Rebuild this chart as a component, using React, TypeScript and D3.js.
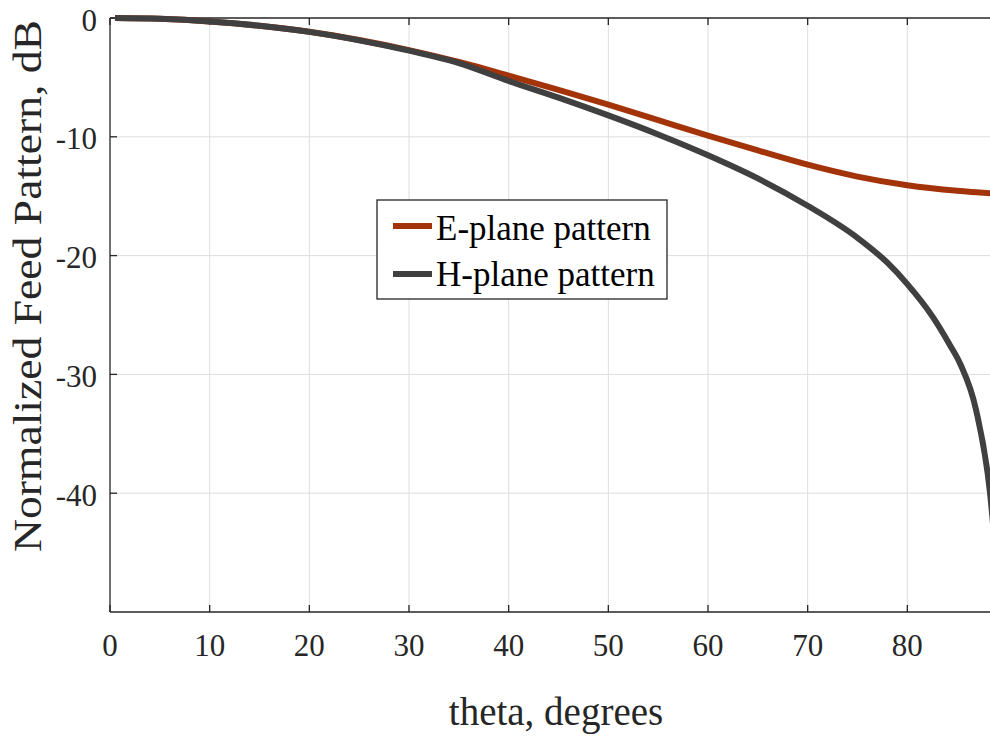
import React from "react";
import * as d3 from "d3";

// Feed pattern samples: angle off boresight (degrees) and normalized level (dB)
const thetaE: number[] = [0.5, 5, 10, 15, 20, 25, 30, 35, 40, 45, 50, 55, 60, 65, 70, 75, 80, 85, 90];
const ePlaneDb: number[] = [0, -0.07, -0.29, -0.65, -1.15, -1.85, -2.7, -3.7, -4.85, -6.05, -7.3, -8.6, -9.9, -11.15, -12.35, -13.35, -14.08, -14.55, -14.85];

const thetaH: number[] = [0.5, 5, 10, 15, 20, 25, 30, 35, 40, 45, 50, 55, 60, 65, 70, 75, 78, 80, 82.5, 84.25, 85.3, 86.9, 88.3, 89];
const hPlaneDb: number[] = [0, -0.07, -0.29, -0.65, -1.17, -1.88, -2.75, -3.8, -5.3, -6.7, -8.2, -9.8, -11.55, -13.5, -15.8, -18.5, -20.6, -22.4, -25.1, -27.5, -29.1, -33.0, -40.0, -46.5];

const xTicks: number[] = [0, 10, 20, 30, 40, 50, 60, 70, 80];
const yTicks: number[] = [0, -10, -20, -30, -40];
const gridX: number[] = [10, 20, 30, 40, 50, 60, 70, 80];
const gridY: number[] = [-10, -20, -30, -40];

const seriesNames: string[] = ["E-plane pattern", "H-plane pattern"];
const seriesColors: string[] = ["#a3340a", "#404040"];

const W = 990;
const H = 738;
const left = 110;
const top = 18;
const bottom = 612;
const right = 1007;

const FONT = "'Liberation Serif', 'Times New Roman', serif";
const INK = "#262626";

export default function App() {
  const x = d3.scaleLinear().domain([0, 90]).range([left, right]);
  const y = d3.scaleLinear().domain([-50, 0]).range([bottom, top]);

  const line = d3
    .line<[number, number]>()
    .x((d) => x(d[0]))
    .y((d) => y(d[1]))
    .curve(d3.curveMonotoneX);

  const ePts = thetaE.map((t, i) => [t, ePlaneDb[i]] as [number, number]);
  const hPts = thetaH.map((t, i) => [t, hPlaneDb[i]] as [number, number]);

  const tickLen = 7;

  return (
    <svg
      width={W}
      height={H}
      viewBox={`0 0 ${W} ${H}`}
      style={{ position: "absolute", left: 0, top: 0, background: "#fff", display: "block" }}
    >
      <rect x={0} y={0} width={W} height={H} fill="#fff" />
      <defs>
        <clipPath id="plotArea">
          <rect x={left} y={top - 10} width={right - left} height={bottom - top + 10} />
        </clipPath>
      </defs>

      {/* grid */}
      <g stroke="#dedede" strokeWidth={1}>
        {gridX.map((t) => (
          <line key={`gx${t}`} x1={x(t)} x2={x(t)} y1={top} y2={bottom} />
        ))}
        {gridY.map((t) => (
          <line key={`gy${t}`} x1={left} x2={right} y1={y(t)} y2={y(t)} />
        ))}
      </g>

      {/* axes box */}
      <g stroke={INK} strokeWidth={1.3} fill="none">
        <line x1={left} x2={right} y1={bottom} y2={bottom} />
        <line x1={left} x2={right} y1={top} y2={top} />
        <line x1={left} x2={left} y1={top} y2={bottom} />
        {xTicks.map((t) => (
          <g key={`xt${t}`}>
            <line x1={x(t)} x2={x(t)} y1={bottom} y2={bottom - tickLen} />
            <line x1={x(t)} x2={x(t)} y1={top} y2={top + tickLen} />
          </g>
        ))}
        {yTicks.map((t) => (
          <line key={`yt${t}`} x1={left} x2={left + tickLen} y1={y(t)} y2={y(t)} />
        ))}
      </g>

      {/* curves */}
      <g clipPath="url(#plotArea)" fill="none" strokeWidth={6} strokeLinejoin="round">
        <path d={line(ePts) ?? ""} stroke={seriesColors[0]} />
        <path d={line(hPts) ?? ""} stroke={seriesColors[1]} />
      </g>

      {/* tick labels */}
      <g fontFamily={FONT} fontSize={31} fill={INK}>
        {xTicks.map((t) => (
          <text key={`xl${t}`} x={x(t)} y={656} textAnchor="middle">
            {t}
          </text>
        ))}
        {yTicks.map((t) => (
          <text key={`yl${t}`} x={left - 13} y={y(t) + 12.5} textAnchor="end">
            {t}
          </text>
        ))}
      </g>

      {/* axis titles */}
      <text
        x={556}
        y={725}
        textAnchor="middle"
        fontFamily={FONT}
        fontSize={39}
        fill={INK}
      >
        theta, degrees
      </text>
      <text
        transform="translate(41,286) rotate(-90)"
        textAnchor="middle"
        fontFamily={FONT}
        fontSize={40}
        textLength={532}
        lengthAdjust="spacingAndGlyphs"
        fill={INK}
      >
        Normalized Feed Pattern, dB
      </text>

      {/* legend */}
      <g>
        <rect x={377} y={200} width={290} height={99} fill="#fff" stroke={INK} strokeWidth={1.3} />
        {seriesNames.map((name, i) => (
          <g key={name}>
            <line
              x1={393}
              x2={432}
              y1={226 + i * 48}
              y2={226 + i * 48}
              stroke={seriesColors[i]}
              strokeWidth={6}
            />
            <text x={436} y={240 + i * 46} fontFamily={FONT} fontSize={35} fill="#000">
              {name}
            </text>
          </g>
        ))}
      </g>
    </svg>
  );
}
